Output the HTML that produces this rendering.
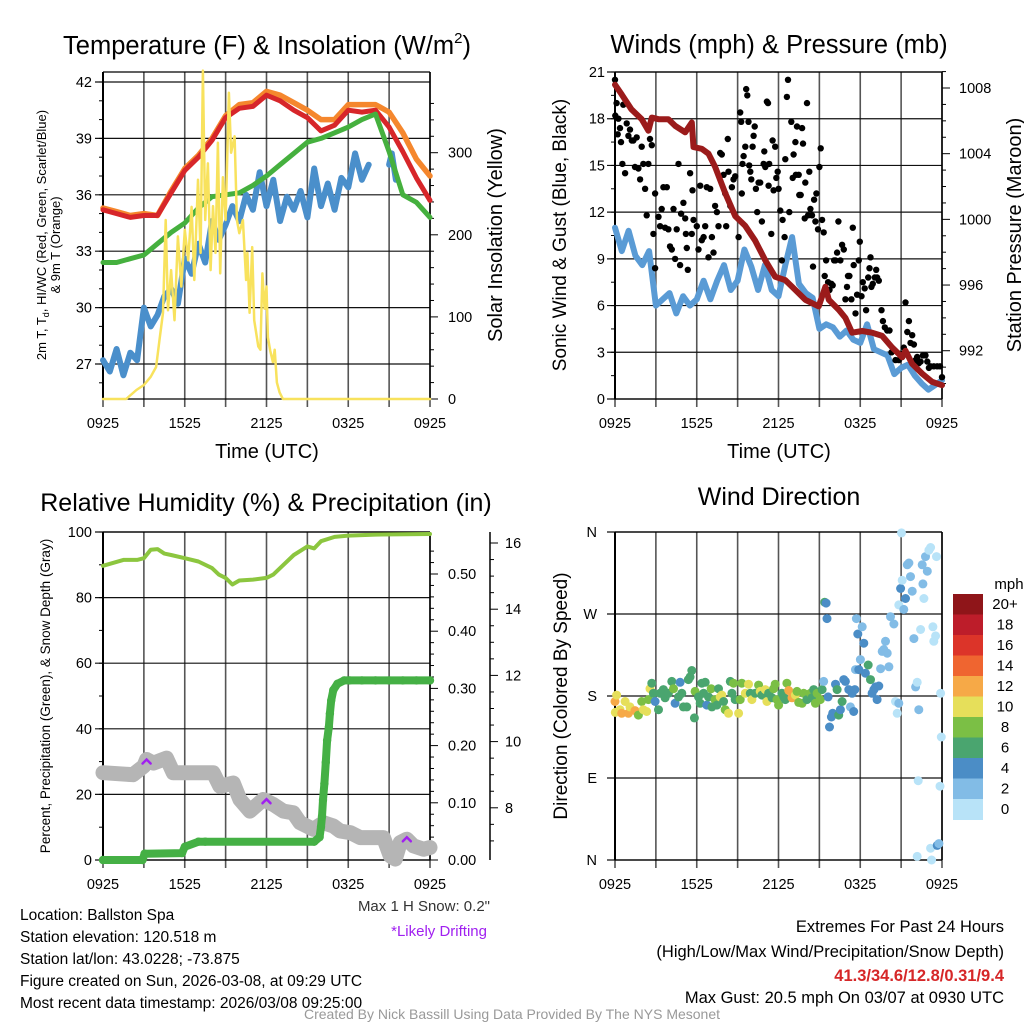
<!DOCTYPE html>
<html><head><meta charset="utf-8"><style>
html,body{margin:0;padding:0;background:#fff;}
svg{display:block;font-family:"Liberation Sans",sans-serif;}
</style></head><body>
<svg id="chart" width="1024" height="1024" viewBox="0 0 1024 1024" xmlns="http://www.w3.org/2000/svg">
<rect x="0" y="0" width="1024" height="1024" fill="#fff"/>
<g id="static" font-family="Liberation Sans, sans-serif" fill="#000">
<text x="267" y="54" font-size="25.5" text-anchor="middle">Temperature (F) &amp; Insolation (W/m<tspan font-size="15" dy="-11">2</tspan><tspan dy="11">)</tspan></text>
<text x="779" y="53" font-size="25.5" text-anchor="middle">Winds (mph) &amp; Pressure (mb)</text>
<text x="266" y="511" font-size="25" text-anchor="middle">Relative Humidity (%) &amp; Precipitation (in)</text>
<text x="779" y="505" font-size="25" text-anchor="middle">Wind Direction</text>
<text x="267" y="458" font-size="20" text-anchor="middle">Time (UTC)</text>
<text x="779" y="458" font-size="20" text-anchor="middle">Time (UTC)</text>
<text transform="translate(46,235) rotate(-90)" font-size="13" text-anchor="middle">2m T, T<tspan font-size="9" dy="3">d</tspan><tspan dy="-3">, HI/WC (Red, Green, Scarlet/Blue)</tspan></text>
<text transform="translate(60,245) rotate(-90)" font-size="13" text-anchor="middle">&amp; 9m T (Orange)</text>
<text transform="translate(502,235) rotate(-90)" font-size="20" text-anchor="middle">Solar Insolation (Yellow)</text>
<text transform="translate(566,235) rotate(-90)" font-size="19" text-anchor="middle">Sonic Wind &amp; Gust (Blue, Black)</text>
<text transform="translate(1021,235) rotate(-90)" font-size="20" text-anchor="middle">Station Pressure (Maroon)</text>
<text transform="translate(50,696) rotate(-90)" font-size="13.5" text-anchor="middle">Percent, Precipitation (Green), &amp; Snow Depth (Gray)</text>
<text transform="translate(567,696) rotate(-90)" font-size="19" text-anchor="middle">Direction (Colored By Speed)</text>
<text x="1009" y="589" font-size="15" text-anchor="middle">mph</text>
<text x="490" y="911" font-size="15" text-anchor="end" fill="#333">Max 1 H Snow: 0.2"</text>
<text x="487" y="936" font-size="15" text-anchor="end" fill="#a020f0">*Likely Drifting</text>
<g font-size="15.5">
<text x="20" y="920">Location: Ballston Spa</text>
<text x="20" y="942">Station elevation: 120.518 m</text>
<text x="20" y="964">Station lat/lon: 43.0228; -73.875</text>
<text x="20" y="986">Figure created on Sun, 2026-03-08, at 09:29 UTC</text>
<text x="20" y="1008">Most recent data timestamp: 2026/03/08 09:25:00</text>
</g>
<g font-size="16.5" text-anchor="end">
<text x="1004" y="932">Extremes For Past 24 Hours</text>
<text x="1004" y="957">(High/Low/Max Wind/Precipitation/Snow Depth)</text>
<text x="1004" y="981" fill="#d62728" font-weight="bold">41.3/34.6/12.8/0.31/9.4</text>
<text x="1004" y="1003">Max Gust: 20.5 mph On 03/07 at 0930 UTC</text>
</g>
<text x="512" y="1019" font-size="14" text-anchor="middle" fill="#999">Created By Nick Bassill Using Data Provided By The NYS Mesonet</text>
</g>
</svg>
<script>
// ===== Panel 1 data (hours since 0925 UTC) =====
const hourly = [0,1,2,3,4,5,6,7,8,9,10,11,12,13,14,15,16,17,18,19,20,21,22,23,24];
const tempRed = [35.2,35.0,34.8,34.9,34.9,36.1,37.3,38.0,38.9,40.1,40.6,40.7,41.3,41.0,40.5,40.1,39.4,39.7,40.5,40.4,40.5,39.6,38.3,36.9,35.7];
const tempOrange = [35.3,35.1,34.9,35.0,34.9,36.2,37.4,38.1,39.0,40.2,40.8,40.9,41.5,41.3,40.9,40.5,40.0,40.0,40.8,40.8,40.8,40.4,39.3,37.9,37.0];
const dewGreen = [32.4,32.4,32.6,32.8,33.4,34.0,34.5,35.3,35.9,36.0,36.1,36.5,37.0,37.6,38.2,38.8,39.0,39.3,39.6,40.0,40.3,38.3,36.0,35.6,34.8];
const chillTimes = [0,0.5,1,1.5,2,2.5,3,3.5,4,4.5,5,5.5,6,6.5,7,7.5,8,8.5,9,9.5,10,10.5,11,11.5,12,12.5,13,13.5,14,14.5,15,15.5,16,16.5,17,17.5,18,18.5,19,19.5];
const chillBlue = [27.2,26.6,27.8,26.4,27.6,27.2,30.0,29.0,29.6,30.6,31.0,30.2,32.6,31.8,33.4,32.4,34.6,33.6,34.4,35.4,34.6,36.0,35.2,37.2,35.4,36.8,34.6,35.9,35.2,36.2,34.8,37.4,35.4,36.6,35.2,36.9,36.4,38.2,36.8,37.6];
const chillTimes2 = [21.0,21.2,21.5];
const chillBlue2 = [37.6,38.2,36.8];
const solarTimes = [0,1.7,2.45,3.0,3.5,3.9,4.15,4.4,4.6,4.77,5.0,5.25,5.5,5.75,6.0,6.25,6.5,6.7,6.97,7.16,7.33,7.5,7.7,7.9,8.07,8.26,8.43,8.6,8.8,9.0,9.24,9.4,9.66,9.83,10.0,10.27,10.5,10.6,10.76,10.95,11.1,11.4,11.55,11.7,11.86,12.0,12.1,12.27,12.47,12.6,12.76,12.96,13.2,24];
const solarW = [0,0,11,17,27,39,72,105,218,108,157,96,198,137,206,169,234,145,267,178,400,218,287,157,235,178,312,153,270,218,373,300,320,218,202,218,145,178,105,185,96,64,60,153,110,137,75,59,45,60,20,8,0,0];
const tempTicks = [27,30,33,36,39,42];
const solarTicks = [0,100,200,300];
const timeTicks = [0,6,12,18,24];
const timeLabels = ["0925","1525","2125","0325","0925"];

// ===== Panel 2 data =====
const windTimes = [0,0.5,1,1.5,2,2.5,3,3.5,4,4.5,5,5.5,6,6.5,7,7.5,8,8.5,9,9.5,10,10.5,11,11.5,12,12.5,13,13.5,14,14.5,15,15.5,16,16.5,17,17.5,18,18.5,19,19.5,20,20.5,21,21.5,22,22.5,23,23.5,24];
const windSpeed = [11.0,9.5,10.8,9.2,8.6,9.5,6.0,6.4,6.8,5.5,6.6,6.0,6.4,7.6,6.4,7.6,8.6,7.0,7.6,9.6,8.5,7.0,8.6,7.0,6.6,8.6,10.4,7.4,6.8,6.5,4.5,4.8,4.6,4.0,4.4,3.8,3.6,4.8,3.2,3.0,2.8,1.6,2.0,2.2,1.5,1.0,0.6,0.9,1.2];
const pressTimes = [0,0.5,1.2,1.96,2.45,2.7,3.19,3.92,4.41,5.15,5.64,5.76,6.37,6.86,7.35,8.09,8.82,9.56,10.29,11.03,11.76,12.5,13.24,13.97,14.95,15.44,15.69,16.42,16.91,17.4,18.14,18.87,19.61,20.34,21.08,21.32,21.81,22.55,23.28,24.0];
const pressure = [1008.2,1007.6,1006.7,1006.1,1005.4,1006.2,1006.1,1006.1,1005.7,1005.3,1005.9,1004.4,1004.3,1004.0,1003.2,1001.6,1000.2,999.6,998.7,997.5,996.5,996.3,995.7,995.1,994.7,995.9,995.1,994.5,994.0,993.1,993.2,993.1,992.9,992.2,991.6,992.0,991.2,990.6,990.1,989.9];
const gustTimes = [0,0.02,0.12,0.25,0.2,0.37,0.44,0.54,0.74,0.61,0.86,0.98,1.1,1.23,1.35,1.47,1.59,1.72,1.84,1.96,2.08,2.21,2.33,2.45,2.57,2.7,2.82,2.94,2.94,3.19,3.31,3.43,3.55,3.68,3.8,3.92,4.04,4.17,4.29,4.41,4.53,4.66,4.78,4.85,5.02,5.15,5.2,5.27,5.34,5.51,5.64,5.69,5.76,6.0,6.13,6.25,6.37,6.5,6.62,6.74,6.86,6.99,7.11,7.23,7.35,7.48,7.6,7.72,7.84,7.97,8.09,8.16,8.28,8.33,8.46,8.58,8.7,8.82,9.07,9.19,9.26,9.31,9.36,9.44,9.56,9.63,9.71,9.8,9.85,9.93,10.0,10.1,10.17,10.25,10.34,10.44,10.54,10.66,10.78,10.91,10.96,11.03,11.15,11.23,11.27,11.32,11.47,11.57,11.64,11.76,11.84,11.94,12.01,12.13,12.25,12.3,12.45,12.5,12.62,12.7,12.79,12.94,13.04,13.11,13.24,13.28,13.36,13.48,13.53,13.63,13.73,13.8,13.92,13.97,14.09,14.17,14.26,14.34,14.46,14.53,14.61,14.71,14.78,14.9,15.0,15.1,15.2,15.32,15.39,15.49,15.64,15.74,15.88,15.98,16.08,16.18,16.3,16.4,16.54,16.67,16.79,16.91,17.03,17.1,17.2,17.35,17.45,17.52,17.65,17.77,17.89,17.97,18.09,18.19,18.33,18.43,18.58,18.68,18.75,18.82,18.92,19.07,19.17,19.24,19.36,19.56,19.66,19.8,19.98,20.15,20.29,20.42,20.59,20.83,20.96,21.08,21.2,21.32,21.45,21.57,21.69,21.81,21.94,22.06,22.18,22.3,22.43,22.6,22.79,22.92,23.04,23.16,23.4,23.65,23.85,24.0];
const gustSpeed = [20.5,18.2,19.0,18.0,17.0,17.4,16.5,15.1,14.5,18.9,17.7,16.9,17.3,16.6,16.6,14.9,16.8,14.8,14.1,16.2,15.1,13.5,11.8,15.1,16.7,16.3,10.6,8.4,13.2,11.7,11.1,12.2,13.6,11.0,13.6,10.9,9.8,9.6,12.2,9.0,10.9,15.1,8.6,11.9,12.6,11.6,10.6,9.7,8.3,14.5,10.6,13.4,11.5,11.1,9.6,13.7,10.2,10.4,11.1,13.6,9.1,13.5,10.4,9.4,12.4,12.0,11.1,15.8,15.7,14.4,13.2,11.1,16.7,14.6,12.4,13.6,14.1,14.3,10.4,18.4,17.8,13.2,15.1,15.6,16.2,19.9,19.5,17.8,15.0,14.6,14.1,16.2,16.9,17.5,13.5,12.0,13.9,13.9,11.4,15.1,15.9,14.9,19.1,19.0,13.7,15.1,10.6,16.6,13.4,16.2,14.2,14.6,13.5,12.1,8.9,11.5,10.4,15.4,19.4,20.5,12.0,17.8,14.2,15.7,16.5,14.4,17.5,14.4,13.1,13.1,17.4,16.4,11.6,13.9,19.0,11.8,14.6,12.2,11.8,8.5,12.8,11.4,13.2,10.9,14.9,16.1,11.5,10.7,7.9,8.9,7.5,7.0,7.4,7.3,8.9,8.9,9.4,11.4,8.9,9.9,9.6,6.4,7.2,7.9,7.9,6.4,11.0,8.6,5.5,6.7,8.9,10.1,6.6,7.5,7.1,5.7,7.8,8.4,9.1,7.2,7.4,7.8,8.3,7.8,7.6,5.7,5.0,4.6,4.4,4.4,3.0,3.1,2.5,2.5,2.9,2.7,3.3,6.2,4.3,5.0,3.6,4.1,3.5,2.5,2.7,2.3,2.4,2.8,2.8,2.4,2.0,2.1,2.1,2.1,2.1,1.4];
const windTicks = [0,3,6,9,12,15,18,21];
const pressTicks = [992,996,1000,1004,1008];

// ===== Panel 3 data =====
const rhTimes = [0,1.5,2.5,3,3.5,4,4.5,5,6,7,8,8.5,9,9.5,10,11,12,12.5,13,14,15,15.5,16,17,18,20,24];
const rhValues = [89.7,91.5,91.5,92.0,94.6,94.8,93.4,93.0,92.0,91.0,89.0,87.0,86.0,84.0,85.2,85.5,86.0,87.0,89.0,93.0,95.6,95.0,97.2,98.5,98.9,99.2,99.4];
const precipTimes = [0,2.9,3.05,5.8,6.0,7.0,7.5,15.5,15.9,16.0,16.07,16.15,16.25,16.35,16.45,16.58,16.65,16.75,16.9,17.2,17.7,18.1,19,20,21,22,23,24];
const precipIn = [0.0,0.0,0.011,0.012,0.023,0.032,0.032,0.032,0.040,0.058,0.076,0.105,0.134,0.171,0.209,0.233,0.256,0.279,0.297,0.308,0.314,0.314,0.314,0.314,0.314,0.314,0.314,0.314];
const snowTimes = [0,2.2,3.0,3.2,3.7,4.66,5.15,7.11,8.09,8.58,9.56,10.05,10.78,11.76,12.5,13.24,13.97,14.46,15.44,16.18,16.91,17.4,18.14,18.87,19.36,20.59,21.08,21.45,21.81,22.3,22.79,23.53,24.0];
const snowDepth = [9.06,9.0,9.26,9.46,9.35,9.5,9.06,9.06,9.06,8.65,8.75,8.25,7.9,8.25,8.1,7.9,7.85,7.55,7.35,7.55,7.45,7.3,7.25,7.1,7.1,7.1,6.55,6.45,6.95,7.05,6.85,6.75,6.8];
const driftTimes = [3.2,12.0,22.3];
const driftDepth = [9.4,8.2,7.05];
const rhTicks = [0,20,40,60,80,100];
const precipTicks = [0.0,0.1,0.2,0.3,0.4,0.5];
const precipLabels = ["0.00","0.10","0.20","0.30","0.40","0.50"];
const snowTicks = [8,10,12,14,16];

// ===== Panel 4 data =====
const dirTimes = [0,0.12,0.02,0.37,0.49,0.74,0.98,1.1,1.47,1.72,1.96,2.08,2.33,2.45,2.57,2.7,2.82,2.94,3.19,3.31,3.55,3.68,3.92,4.17,4.29,4.41,4.66,4.78,4.9,5.02,5.27,5.39,5.51,5.64,5.83,5.88,6.13,6.25,6.37,6.5,6.62,6.74,6.86,7.06,7.11,7.35,7.48,7.6,7.72,7.84,7.97,8.09,8.33,8.46,8.58,8.7,8.82,9.07,9.19,9.31,9.56,9.8,9.93,10.05,10.29,10.54,10.66,10.78,11.03,11.15,11.27,11.52,11.64,11.76,11.89,12.01,12.25,12.38,12.5,12.62,12.75,12.99,13.24,13.36,13.48,13.73,13.85,14.09,14.34,14.46,14.58,14.71,14.83,15.07,15.2,15.32,15.39,15.49,15.56,15.64,15.74,15.88,15.98,16.18,16.3,16.42,16.54,16.67,16.79,16.91,17.16,17.28,17.4,17.52,17.6,17.72,17.82,18.14,18.26,18.01,17.65,17.89,18.38,18.58,18.75,18.87,19.0,19.12,19.24,19.36,19.49,19.61,19.73,19.85,19.98,20.1,20.22,20.47,20.59,20.71,20.83,20.83,20.96,21.08,21.2,21.32,21.45,21.57,21.69,21.81,21.94,22.06,22.18,22.3,22.43,22.55,22.6,22.67,22.79,22.92,23.04,23.16,23.33,23.4,23.53,23.6,23.9,23.95,23.85,22.25,22.18,23.24,23.16,23.65,23.77,21.03];
const dirDeg = [174,181,162,165,161,174,161,168,164,159,174,165,163,176,188,194,183,174,165,183,187,178,183,196,188,172,179,195,183,168,168,198,201,208,156,185,179,172,194,183,195,170,179,188,168,176,170,188,179,181,174,165,161,196,183,194,176,161,176,194,183,193,183,176,183,192,185,181,187,174,183,178,188,193,176,170,183,179,176,194,186,178,181,185,173,172,183,176,183,178,187,172,183,176,187,196,283,282,265,179,146,157,161,193,187,159,165,174,198,196,187,168,183,163,187,265,248,256,238,220,209,209,205,214,198,183,187,190,176,191,210,229,231,240,227,212,267,259,174,161,172,280,298,307,275,287,324,326,311,295,243,190,195,165,253,324,303,287,333,317,340,343,256,240,246,333,183,135,81,87,4,0,13,16,18,359];
const dirSpeed = [12,10,10,10,12,10,12,10,12,8,8,10,10,8,10,6,6,4,6,6,6,6,6,6,8,4,6,4,6,6,6,6,6,6,6,8,6,6,6,6,6,4,6,8,6,8,6,6,10,10,6,8,10,6,6,8,6,10,8,8,10,10,6,10,6,8,10,6,10,10,6,6,8,8,8,8,6,6,6,8,12,12,10,8,8,8,8,6,8,6,6,8,8,8,6,2,6,4,4,4,4,4,4,4,6,6,4,6,4,4,4,2,4,4,4,2,4,2,4,2,2,4,4,6,6,4,4,4,4,4,2,2,2,2,2,2,2,2,0,0,2,0,4,0,2,4,2,2,2,2,2,2,0,2,0,2,2,0,2,2,0,0,0,0,0,0,0,0,0,0,0,0,0,4,2,0];
const dirTicks = [0,90,180,270,360];
const dirLabels = ["N","E","S","W","N"];
const speedBins = [0,2,4,6,8,10,12,14,16,18,20];
const speedLabels = ["0","2","4","6","8","10","12","14","16","18","20+"];
const speedColors = ["#b8e3f8","#82bce6","#4b8dc6","#4aa56f","#7bbf45","#e6df5a","#f6a947","#ef6530","#dc3429","#bd1d2a","#8f1519"];

// ===== rendering =====
const NS = 'http://www.w3.org/2000/svg';
const svg = document.getElementById('chart');
function mk(tag, name, parent) {
  const el = document.createElementNS(NS, tag);
  
  
  (parent || svg).appendChild(el);
  return el;
}
function attrs(el, o) { for (const k in o) el.setAttribute(k, o[k]); return el; }
function line(x1,y1,x2,y2,stroke,w,name){ return attrs(mk('line',name),{x1:x1,y1:y1,x2:x2,y2:y2,stroke:stroke,'stroke-width':w}); }
function text(x,y,s,anchor,size,name){ const t=attrs(mk('text',name),{x:x,y:y,'text-anchor':anchor,'font-size':size,fill:'#000'}); t.textContent=s; return t; }
function poly(xs,ys,fx,fy,color,w,name){
  const p=mk('polyline',name);
  attrs(p,{points:xs.map((t,i)=>fx(t).toFixed(1)+','+fy(ys[i]).toFixed(1)).join(' '),fill:'none',stroke:color,'stroke-width':w,'stroke-linejoin':'round','stroke-linecap':'round'});
  return p;
}

// axis functions
const L=103,R=430,L2=615,R2=942,T1=72,B1=399,T3=532,B3=860;
const xT = h => L + h*(R-L)/24;
const x2 = h => L2 + h*(R2-L2)/24;
const yT = v => 82 + (42-v)*18.8;
const yS = w => B1 - w*0.821;
const yW = m => B1 - m*(B1-T1)/21;
const yP = p => 88 + (1008-p)*16.42;
const yRH = v => B3 - v*(B3-T3)/100;
const yPr = i => B3 - i*572;
const ySn = s => 543 + (16-s)*33.1;
const yD = d => B3 - d*(B3-T3)/360;

function frame(x0,x1,y0,y1,fx,grid,name){
  for(let h=0;h<=24;h+=3){ line(fx(h),y0,fx(h),y1+8,'#555',1.6,name+'-vgrid'); }
  grid.forEach(y=>line(x0-8,y,x1,y,'#111',1.2,name+'-hgrid'));
  line(x0,y0,x0,y1,'#000',2,name+'-left-axis');
  line(x1,y0,x1,y1,'#000',1.5,name+'-right-axis');
  line(x0,y0,x1,y0,'#000',1.2,name+'-top-border');
  line(x0,y1,x1,y1,'#000',1.2,name+'-bottom-border');
  timeTicks.forEach((h,i)=>text(fx(h),y1+29,timeLabels[i],'middle',14.5,name+'-x-tick-label'));
}

// Panel 1
frame(L,R,T1,B1,xT,tempTicks.map(yT),'temp');
tempTicks.forEach(v=>text(92,yT(v)+5,String(v),'end',14.5,'temp-y-tick-label'));
for(let v=26;v<=42;v++){ line(L-4,yT(v),L,yT(v),'#000',1,'temp-minor-tick'); }
for(let w=0;w<=360;w+=20){ line(R,yS(w),R+(w%100===0?8:4),yS(w),'#000',1,'solar-tick'); }
solarTicks.forEach(w=>text(448,yS(w)+5,String(w),'start',14.5,'solar-y-tick-label'));
poly(chillTimes,chillBlue,xT,yT,'#4a8fcb',6,'wind-chill-line');
poly(chillTimes2,chillBlue2,xT,yT,'#4a8fcb',6,'wind-chill-line-late');
poly(hourly,tempOrange,xT,yT,'#f5872d',5.5,'temp-9m-line');
poly(hourly,tempRed,xT,yT,'#d7262a',5,'temp-2m-line');
poly(hourly,dewGreen,xT,yT,'#45b03e',5,'dewpoint-line');
poly(solarTimes,solarW,xT,yS,'#f8e25d',2.5,'solar-line');

// Panel 2
frame(L2,R2,T1,B1,x2,windTicks.map(yW),'wind');
windTicks.forEach(v=>text(605,yW(v)+5,String(v),'end',14.5,'wind-y-tick-label'));
for(let v=0;v<=21;v+=1.5){ line(L2-4,yW(v),L2,yW(v),'#000',1,'wind-minor-tick'); }
for(let p=990;p<=1009;p++){ line(R2,yP(p),R2+(p%4===0?8:4),yP(p),'#000',1,'pressure-tick'); }
pressTicks.forEach(p=>text(959,yP(p)+5,String(p),'start',14.5,'pressure-y-tick-label'));
poly(windTimes,windSpeed,x2,yW,'#5a9bd5',6,'sonic-wind-line');
const gustG = mk('g','gust-dots');
gustTimes.forEach((t,i)=>{
  const c = mk('circle','gust-dot',gustG);
  attrs(c,{cx:x2(t).toFixed(1),cy:yW(gustSpeed[i]).toFixed(1),r:3.2,fill:'#000'});
});
poly(pressTimes,pressure,x2,yP,'#9b1b1b',6,'pressure-line');

// Panel 3
frame(L,R,T3,B3,xT,rhTicks.map(yRH),'rh');
rhTicks.forEach(v=>text(92,yRH(v)+5,String(v),'end',14.5,'rh-y-tick-label'));
for(let v=0;v<=100;v+=10){ line(L-4,yRH(v),L,yRH(v),'#000',1,'rh-minor-tick'); }
for(let i=0;i<=0.56;i+=0.02){ line(R,yPr(i),R+(Math.round(i*100)%10===0?8:4),yPr(i),'#000',1,'precip-tick'); }
precipTicks.forEach((v,i)=>text(448,yPr(v)+5,precipLabels[i],'start',14.5,'precip-y-tick-label'));
line(490,T3,490,B3,'#000',1.5,'snow-axis');
for(let s=7;s<=16;s+=0.5){ line(490,ySn(s),490+(s%2===0?8:4),ySn(s),'#000',1,'snow-tick'); }
snowTicks.forEach(s=>text(505,ySn(s)+5,String(s),'start',14.5,'snow-y-tick-label'));
poly(rhTimes,rhValues,xT,yRH,'#8cc63f',4,'rh-line');
poly(snowTimes,snowDepth,xT,ySn,'#b5b5b5',15,'snow-depth-line');
poly(precipTimes,precipIn,xT,yPr,'#45b045',8,'precip-line');
const prG = mk('g','precip-dots');
precipTimes.forEach((t,i)=>{
  const c = mk('circle','precip-dot',prG);
  attrs(c,{cx:xT(t).toFixed(1),cy:yPr(precipIn[i]).toFixed(1),r:4.2,fill:'#45b045'});
});
driftTimes.forEach((t,i)=>{
  const p = mk('path','drift-marker');
  const cx=xT(t), cy=ySn(driftDepth[i]);
  attrs(p,{d:`M${cx-4},${cy+2} L${cx},${cy-2} L${cx+4},${cy+2}`,fill:'none',stroke:'#a020f0','stroke-width':2.5,'stroke-linecap':'round'});
});

// Panel 4
frame(L2,R2,T3,B3,x2,dirTicks.map(yD),'dir');
dirTicks.forEach((d,i)=>text(597,yD(d)+5,dirLabels[i],'end',14.5,'dir-y-tick-label'));
const dG = mk('g','direction-dots');
dirTimes.forEach((t,i)=>{
  const c = mk('circle','direction-dot',dG);
  const bin = Math.min(10, Math.floor(dirSpeed[i]/2));
  attrs(c,{cx:x2(t).toFixed(1),cy:yD(dirDeg[i]).toFixed(1),r:4.5,fill:speedColors[bin]});
});
// colorbar
const cbTop=594, cbH=20.5;
speedBins.forEach((b,k)=>{
  const i = speedBins.length-1-k;
  const r = mk('rect','colorbar-bin');
  attrs(r,{x:953,y:cbTop+k*cbH,width:30,height:cbH+0.5,fill:speedColors[i]});
  text(1005,cbTop+k*cbH+15,speedLabels[i],'middle',15,'colorbar-label');
});
</script>
</body></html>
